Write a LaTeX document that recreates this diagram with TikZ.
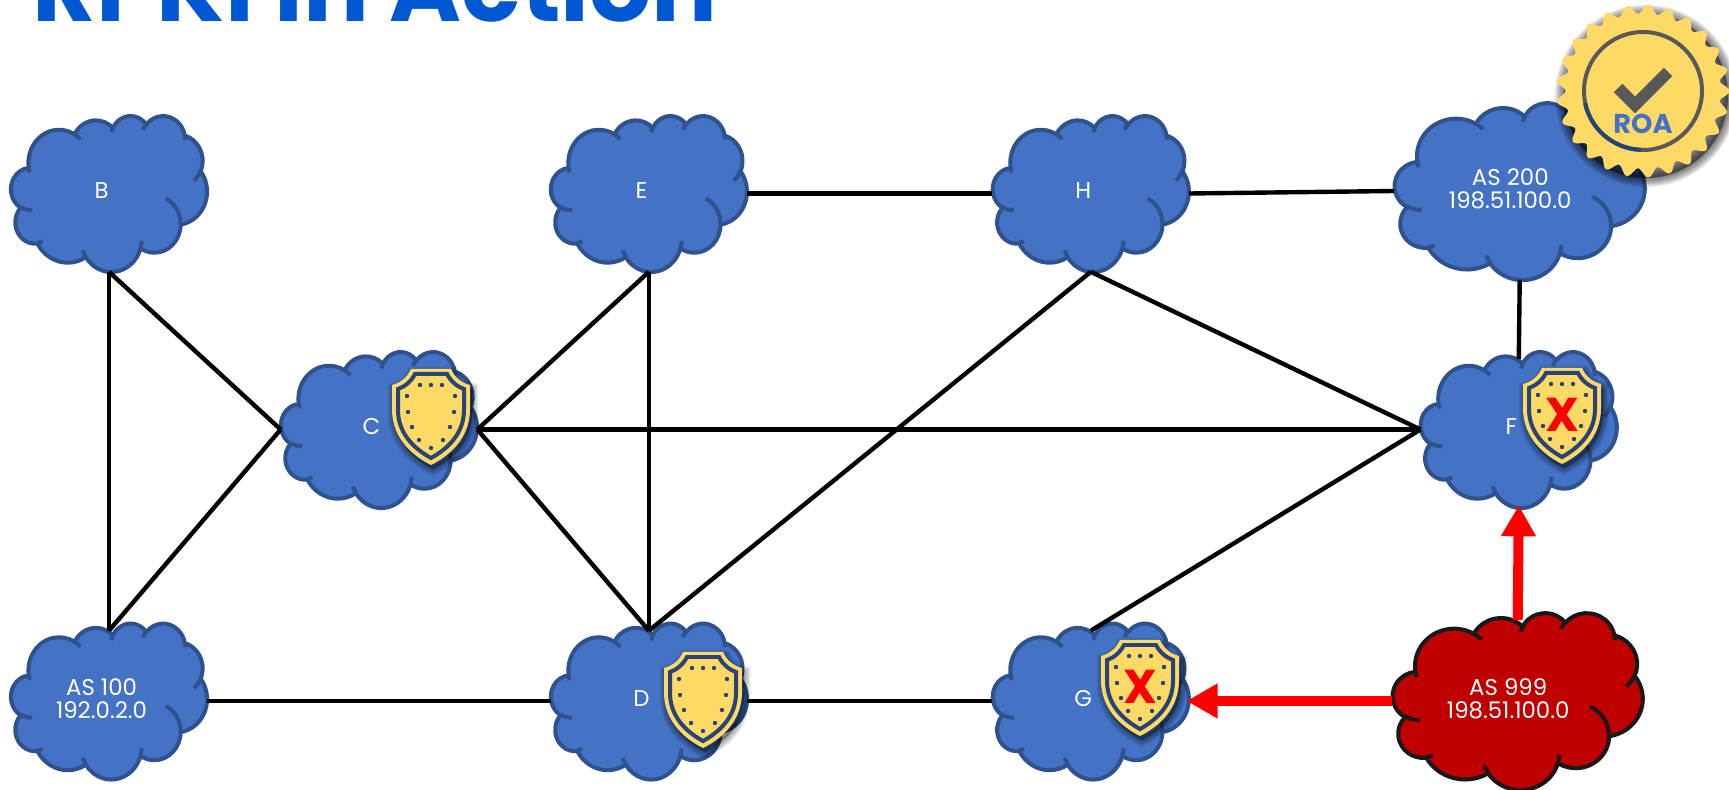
\documentclass[tikz,border=0pt]{standalone}
\usepackage{fontspec}
\setmainfont{Poppins}
\usetikzlibrary{arrows.meta}

\definecolor{cloudblue}{HTML}{4472C4}
\definecolor{cloudedge}{HTML}{2F528F}
\definecolor{attackred}{HTML}{C00000}
\definecolor{badgeyellow}{HTML}{FFD966}
\definecolor{shieldnavy}{HTML}{264478}
\definecolor{titleblue}{HTML}{0057D2}

\newcommand{\lobe}[4]{arc[x radius=#1, y radius=#2, start angle={lobeang(#1,#2,#3)}, end angle={lobeang(#1,#2,#3+#4)}]}

% name, width, height, colours, text
\newcommand{\netcloud}[5]{
  \begin{scope}[shift={(#1)}, x=#2cm/43.2, y=-#3cm/43.2, shift={(-21.6,-21.6)}]
    \draw[#4, line join=round] (3.9,14.37) \lobe{6.753}{9.19}{-190.487}{123.781} \lobe{5.333}{7.267}{-144.102}{89.945}
      \lobe{4.365}{5.945}{-145.808}{99.723} \lobe{4.857}{6.595}{-130.986}{117.242} \lobe{5.333}{7.273}{-78.709}{109.027}
      \lobe{6.775}{9.22}{-46.267}{130.269} \lobe{5.785}{7.867}{0.625}{114.033} \lobe{6.752}{9.215}{22.452}{115.173}
      \lobe{7.72}{10.543}{66.243}{75.711} \lobe{4.36}{5.918}{-274.942}{146.736} \lobe{4.345}{5.945}{-246.829}{152.519} -- cycle;
    \draw[#4, fill=none] (4.693,26.177) \lobe{4.345}{5.945}{86.742}{26.43}
      (6.928,34.899) \lobe{4.36}{5.918}{73.611}{11.447}
      (16.478,39.09) \lobe{6.752}{9.215}{137.624}{14.081}
      (28.827,34.751) \lobe{6.752}{9.215}{6.453}{15.998}
      (34.129,22.954) \lobe{5.785}{7.867}{-70.292}{70.917}
      (41.798,15.354) \lobe{5.333}{7.273}{30.318}{27.752}
      (38.324,5.426) \lobe{4.857}{6.595}{-13.744}{14.859}
      (29.078,3.952) \lobe{4.857}{6.595}{-149.181}{18.195}
      (22.141,4.72) \lobe{4.365}{5.945}{-163.494}{17.686}
      (14,5.192) \lobe{6.753}{9.19}{-66.707}{12.319}
      (4.127,15.789) \lobe{6.753}{9.19}{157.654}{11.858};
  \end{scope}
  \coordinate (#1top) at ([yshift=-0.16cm]#1.north);
  \node[cloudtext] (#1text) at ([xshift=-0.038*#2cm, yshift=0.05cm]#1) {#5};
}

\newcommand{\shieldpath}{(-20,0) -- (20,0) .. controls (24,9) and (31,14) .. (39,16) -- (39,40) .. controls (39,65) and (24,84) .. (0,96)
  .. controls (-24,84) and (-39,65) .. (-39,40) -- (-39,16) .. controls (-31,14) and (-24,9) .. (-20,0) -- cycle}

\newcommand{\shieldicon}[1]{
  \begin{scope}[shift={(#1)}]
    \foreach \w in {1,...,5} {
      \fill[black, opacity=0.08, draw=black, line width=\w*0.05cm, shift={(2,4)}] \shieldpath;
    }
    \fill[badgeyellow] \shieldpath;
    \draw[shieldnavy, line width=0.08cm] (-16,5) -- (16,5) .. controls (20,13) and (27,18) .. (33,20) -- (33,41)
      .. controls (33,62) and (20,78) .. (0,89) .. controls (-20,78) and (-33,62) .. (-33,41) -- (-33,20)
      .. controls (-27,18) and (-20,13) .. (-16,5) -- cycle;
    \foreach \dx/\dy in {-11/16,0/16,11/16,-24/27,24/27,-23/43,23/43,-19/58,19/58,-12/71,12/71,0/79} {
      \fill[shieldnavy] (\dx,\dy) circle[radius=2.2];
    }
  \end{scope}
}

\begin{document}
\begin{tikzpicture}[x=0.02cm, y=-0.02cm, declare function={lobeang(\w,\h,\a)=atan2(\w*sin(\a),\h*cos(\a))+360*round((\a-atan2(\w*sin(\a),\h*cos(\a)))/360);},
  smallbox/.style={rectangle, minimum width=3.92cm, minimum height=3.12cm, inner sep=0pt},
  bigbox/.style={rectangle, minimum width=5cm, minimum height=3.54cm, inner sep=0pt},
  bluecloud/.style={fill=cloudblue, draw=cloudedge, line width=0.08cm},
  redcloud/.style={fill=attackred, draw=black!90, line width=0.08cm},
  cloudtext/.style={text=white, align=center, inner sep=0pt, font=\fontsize{13}{13.2}\selectfont},
  link/.style={draw=black, line width=2.5pt},
  hijack/.style={draw=red, line width=0.2cm, shorten >=-0.05cm, -{Triangle[length=0.62cm, width=0.66cm]}},
  crossmark/.style={text=red, inner sep=0pt, font=\fontsize{27}{27}\selectfont\bfseries}]

  \useasboundingbox (0,0) rectangle (1729,790);

  \node[anchor=base west, inner sep=0pt, text=titleblue, font=\fontsize{55.6}{55.6}\selectfont\bfseries] (title) at (32,22) {RPKI in Action};

  \node[smallbox] (b) at (109,193.5) {};
  \node[smallbox, right of=b, node distance=10.8cm] (e) {};
  \node[smallbox, right of=e, node distance=8.84cm] (h) {};
  \node[bigbox, right of=h, node distance=8.58cm, yshift=0.05cm] (as200) {};
  \node[smallbox] (c) at (379,429.5) {};
  \node[smallbox, right of=c, node distance=22.8cm] (f) {};
  \node[smallbox] (as100) at (109,701) {};
  \node[smallbox, right of=as100, node distance=10.8cm] (d) {};
  \node[smallbox, right of=d, node distance=8.84cm] (g) {};
  \node[bigbox, right of=g, node distance=8.54cm] (as999) {};

  \netcloud{b}{3.92}{3.12}{bluecloud}{B}
  \netcloud{e}{3.92}{3.12}{bluecloud}{E}
  \netcloud{h}{3.92}{3.12}{bluecloud}{H}
  \netcloud{as200}{5}{3.54}{bluecloud}{AS 200\\198.51.100.0}
  \netcloud{c}{3.92}{3.12}{bluecloud}{C}
  \netcloud{f}{3.92}{3.12}{bluecloud}{F}
  \netcloud{as100}{3.92}{3.12}{bluecloud}{AS 100\\192.0.2.0}
  \netcloud{d}{3.92}{3.12}{bluecloud}{D}
  \netcloud{g}{3.92}{3.12}{bluecloud}{G}
  \netcloud{as999}{5}{3.54}{redcloud}{AS 999\\198.51.100.0}

  \draw[link] (b.south) -- (as100top);
  \draw[link] (b.south) -- (c.west);
  \draw[link] (as100top) -- (c.west);
  \draw[link] (c.east) -- (e.south);
  \draw[link] (c.east) -- (dtop);
  \draw[link] (c.east) -- (f.west);
  \draw[link] (e.south) -- (dtop);
  \draw[link] (e.east) -- (h.west);
  \draw[link] (h.east) -- (as200.west);
  \draw[link] (h.south) -- (dtop);
  \draw[link] (h.south) -- (f.west);
  \draw[link] (as100.east) -- (d.west);
  \draw[link] (d.east) -- (g.west);
  \draw[link] (gtop) -- (f.west);
  \draw[link] (as200.south) -- (ftop);

  \draw[hijack] (as999.west) -- (g.east);
  \draw[hijack] (as999top) -- (f.south);

  \shieldicon{431,369}
  \shieldicon{1562,368}
  \shieldicon{703,652}
  \shieldicon{1140,640}
  \node[crossmark] (fcross) at (1562,415) {X};
  \node[crossmark] (gcross) at (1140,687) {X};

  \begin{scope}[shift={(1643,91)}]
    \foreach \w in {1,...,6} {
      \fill[black, opacity=0.1, draw=black, line width=\w*0.06cm, shift={(3,5)}] (0,0) circle[radius=82];
    }
    \fill[badgeyellow] plot[domain=0:360, samples=400] ({(82+4.5*cos(25*\x))*cos(\x)},{(82+4.5*cos(25*\x))*sin(\x)}) -- cycle;
    \draw[black!65, line width=0.08cm] (0,0) circle[radius=59];
    \draw[shieldnavy, line width=0.08cm] (-58,12) arc[start angle=168, end angle=92, radius=59];
    \draw[black!65, line width=0.24cm, line join=miter] (-25,-3) -- (-8,14) -- (25,-19);
  \end{scope}
  \node[text=cloudblue, inner sep=0pt, font=\fontsize{15.5}{15.5}\selectfont\bfseries] (roa) at (1643,124) {ROA};
\end{tikzpicture}
\end{document}
